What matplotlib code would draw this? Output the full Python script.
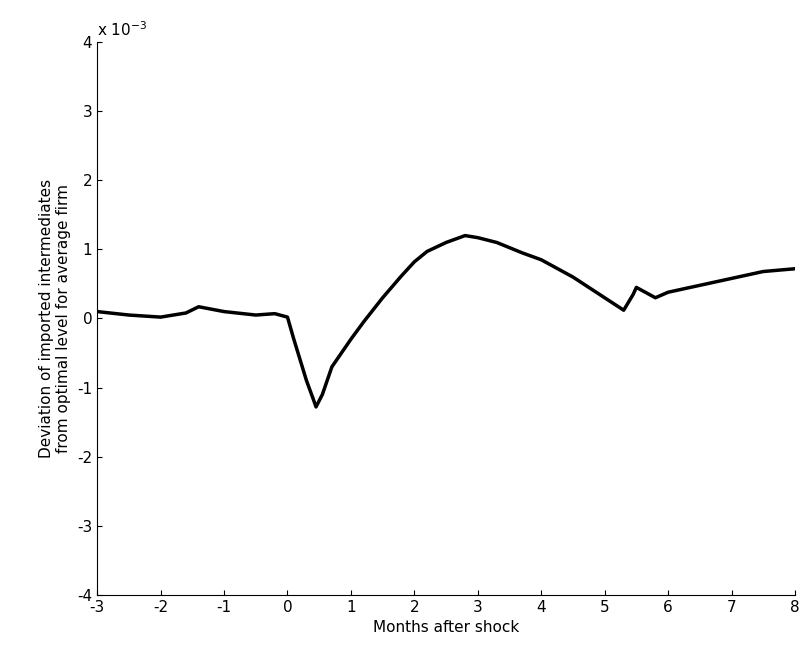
import matplotlib.pyplot as plt

months = [-3, -2.5, -2, -1.6, -1.4, -1, -0.5, -0.2, 0, 0.1, 0.2, 0.3, 0.4, 0.45, 0.55, 0.7, 1, 1.2,
          1.5, 1.8, 2, 2.2, 2.5, 2.8, 3, 3.3, 3.7, 4, 4.5, 5, 5.3, 5.45, 5.5, 5.8, 6, 6.5, 7, 7.5, 8]
deviation = [0.1, 0.05, 0.02, 0.08, 0.17, 0.1, 0.05, 0.07, 0.02, -0.3, -0.6, -0.9, -1.15, -1.28, -1.1,
             -0.7, -0.3, -0.05, 0.3, 0.62, 0.82, 0.97, 1.1, 1.2, 1.17, 1.1, 0.95, 0.85, 0.6, 0.3, 0.12,
             0.35, 0.45, 0.3, 0.38, 0.48, 0.58, 0.68, 0.72]

fig = plt.figure(figsize=(8.03, 6.48), dpi=100)
ax = fig.add_axes([0.121, 0.082, 0.869, 0.853])
ax.plot(months, [d * 1e-3 for d in deviation], color='black', linewidth=2.5)
ax.set_xlim(-3, 8)
ax.set_ylim(-4e-3, 4e-3)
ax.set_xticks(range(-3, 9))
ax.set_xticklabels([str(i) for i in range(-3, 9)])
ax.set_yticks([i * 1e-3 for i in range(-4, 5)])
ax.set_yticklabels([str(i) for i in range(-4, 5)])
ax.text(0, 1.005, r'x 10$^{-3}$', transform=ax.transAxes, fontsize=11, va='bottom')
ax.spines['top'].set_visible(False)
ax.spines['right'].set_visible(False)
ax.tick_params(labelsize=11, direction='in')
ax.set_xlabel('Months after shock', fontsize=11)
ax.set_ylabel('Deviation of imported intermediates\nfrom optimal level for average firm', fontsize=11)
fig.savefig('out.png')
